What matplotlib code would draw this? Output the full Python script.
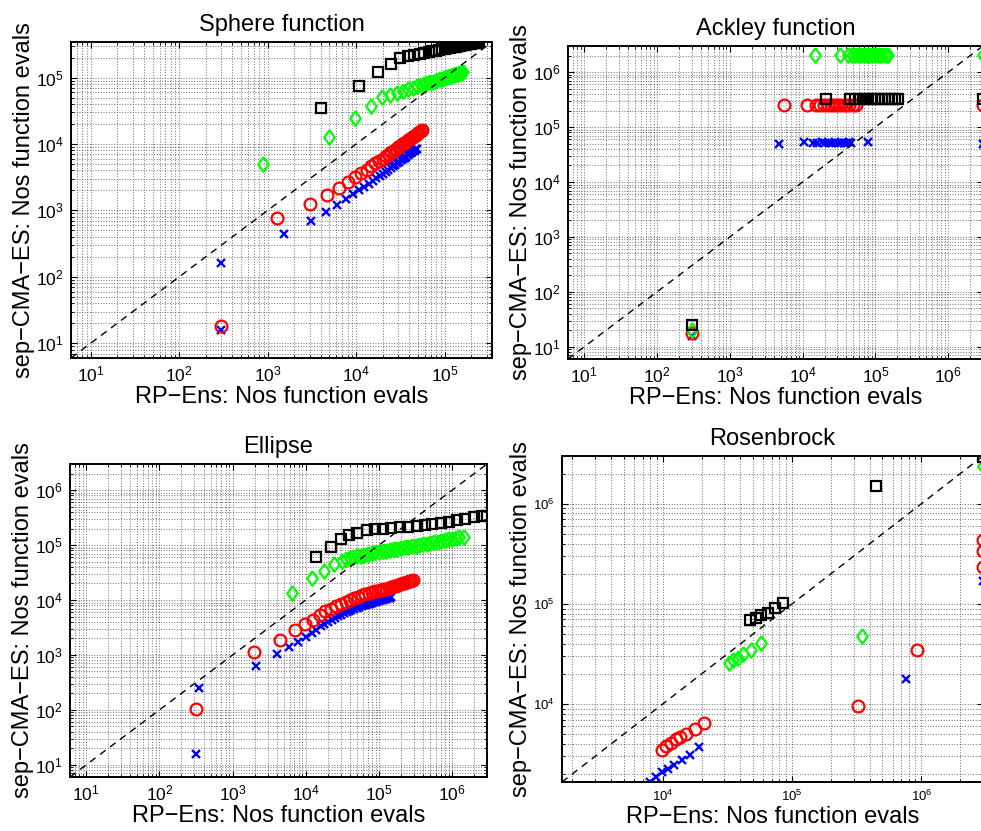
import matplotlib
matplotlib.use('Agg')
import matplotlib.pyplot as plt
import matplotlib.ticker as mticker
from matplotlib import font_manager as fm

# narrow helvetica-like look of the matlab export, if available
names = {f.name for f in fm.fontManager.ttflist}
if 'Liberation Sans Narrow' in names:
    FONT, LAB, TICK, TICK_SMALL = 'Liberation Sans Narrow', 21, 14, 11
else:
    FONT, LAB, TICK, TICK_SMALL = 'Liberation Sans', 17, 12.5, 9.5
plt.rcParams['font.family'] = [FONT, 'DejaVu Sans']

XLABEL = 'RP\u2212Ens: Nos function evals'
YLABEL = 'sep\u2212CMA\u2212ES: Nos function evals'

# ---- Sphere function ----
sph_blue_x = [300, 300, 1540, 3080, 4620, 6160, 7700, 9240, 10780, 12320, 13860, 15400, 16940, 18480,
              20020, 21560, 23100, 24640, 26180, 27720, 29260, 30800, 32340, 33880, 35420, 36960,
              38500, 40040, 41580, 43120, 44660, 46200, 47740, 49280]
sph_blue_y = [160, 16, 440, 700, 960, 1220, 1490, 1750, 2010, 2270, 2530, 2800, 3060, 3320, 3580,
              3840, 4100, 4370, 4630, 4890, 5150, 5420, 5680, 5940, 6200, 6460, 6730, 6990, 7250,
              7510, 7770, 8040, 8300, 8560]
sph_red_x = [300, 1290, 2980, 4670, 6360, 8050, 9740, 11430, 13120, 14810, 16500, 18190, 19880,
             21570, 23260, 24950, 26640, 28330, 30020, 31710, 33400, 35090, 36780, 38470, 40160,
             41850, 43540, 45230, 46920, 48610, 50300, 51990, 53680, 55370]
sph_red_y = [18, 770, 1250, 1730, 2210, 2690, 3170, 3650, 4130, 4610, 5090, 5570, 6050, 6530, 7010,
             7490, 7970, 8450, 8930, 9410, 9890, 10370, 10850, 11330, 11810, 12290, 12770, 13250,
             13730, 14210, 14690, 15170, 15650, 16130]
sph_green_x = [893, 4880, 9760, 14640, 19520, 24400, 29280, 34160, 39040, 43920, 48800, 53680,
               58560, 63440, 68320, 73200, 78080, 82960, 87840, 92720, 97600, 102480, 107360,
               112240, 117120, 122000, 126880, 131760, 136640, 141520, 146400, 151280, 156160, 161040]
sph_green_y = [4980, 12800, 24700, 37900, 51200, 55000, 59400, 63400, 67000, 70400, 73600, 76600,
               79400, 82200, 84800, 87200, 89600, 92000, 94200, 96300, 98500, 100500, 102500,
               104400, 106300, 108100, 109900, 111700, 113400, 115100, 116700, 118300, 119900, 121500]
sph_black_x = [4030, 10900, 17800, 24700, 31600, 38500, 45400, 52300, 59200, 66100, 73000, 79900,
               86800, 93700, 100600, 107500, 114400, 121300, 128200, 135100, 142000, 148900,
               155800, 162700, 169600, 176500, 183400, 190300, 197200, 204100, 211000, 217900,
               224800, 231700, 238600, 245500]
sph_black_y = [35000, 74000, 120000, 162000, 198000, 208900, 218400, 226900, 234600, 241700,
               248200, 254400, 260100, 265500, 270700, 275600, 280200, 284700, 289000, 293100,
               297100, 300900, 304600, 308200, 311700, 315100, 318300, 321500, 324600, 327600,
               330600, 333500, 336300, 339000, 341800, 344400]

# ---- Ackley function ----
ack_blue_x = [300, 4680, 10300, 13900, 16000, 18300, 20500, 23000, 25500, 28000, 30500, 33500,
              36500, 39500, 43000, 46800, 79200, 3000000]
ack_blue_y = [16, 48700, 53000, 52000, 51500, 52500, 52000, 51000, 52000, 52500, 51500, 52000,
              51000, 52000, 52500, 51500, 53000, 50000]
ack_red_x = [300, 5480, 11500, 15400, 17500, 19800, 22000, 24500, 27000, 30000, 33000, 36500,
             40000, 44000, 48500, 54800, 3000000]
ack_red_y = [17.5, 254000, 254000, 252000, 255000, 253000, 256000, 254000, 252000, 255000, 253000,
             254000, 256000, 253000, 255000, 254000, 254000]
ack_green_x = [300, 14900, 32300, 42100, 47000, 52000, 57500, 63000, 69000, 75500, 82500, 90000,
               98000, 107000, 117000, 127000, 138000, 149000, 3000000]
ack_green_y = [20, 2070000, 2070000, 2060000, 2080000, 2070000, 2060000, 2070000, 2080000, 2070000,
               2060000, 2070000, 2080000, 2070000, 2060000, 2070000, 2080000, 2070000, 2070000]
ack_black_x = [300, 20800, 45300, 52000, 60000, 68000, 77000, 87000, 98000, 110000, 123000,
               137000, 152000, 168000, 186000, 205000, 3000000]
ack_black_y = [24.8, 322000, 322000, 321000, 323000, 322000, 321000, 322000, 323000, 322000,
               321000, 322000, 323000, 322000, 321000, 322000, 322000]

# ---- Ellipse ----
ell_blue_x = [318, 345, 2110, 4010, 5890, 7870, 9980, 12000, 14000, 16000, 18000, 20000, 22500,
              25000, 27500, 30000, 33000, 36000, 39000, 42000, 46000, 50000, 54000, 58000, 62000,
              66000, 70000, 75000, 80000, 85000, 90000, 95000, 100000, 106000, 112000, 118000,
              124000, 130000, 136000, 142000, 147000]
ell_blue_y = [16, 250, 637, 1040, 1370, 1740, 2110, 2500, 2900, 3300, 3690, 4010, 4390, 4770, 5100,
              5380, 5700, 6010, 6310, 6580, 6890, 7180, 7460, 7730, 7990, 8200, 8390, 8630, 8850,
              9060, 9270, 9480, 9670, 9880, 10100, 10300, 10500, 10700, 10900, 11100, 11250]
ell_red_x = [318, 1960, 4500, 7010, 9680, 12500, 15500, 18500, 22000, 26000, 30000, 35000, 40000,
             46000, 52000, 58000, 65000, 72000, 80000, 88000, 96000, 105000, 115000, 125000,
             135000, 146000, 158000, 170000, 183000, 196000, 210000, 224000, 240000, 256000,
             272000, 288000]
ell_red_y = [104, 1130, 1890, 2790, 3690, 4360, 5310, 6200, 6970, 7810, 8500, 9270, 10000, 10700,
             11400, 12100, 12700, 13200, 13800, 14400, 14800, 15300, 15800, 16200, 16600, 17100,
             17800, 18300, 18900, 19500, 20100, 20700, 21400, 22000, 22600, 23200]
ell_green_x = [6460, 12300, 17600, 24000, 31200, 35500, 39800, 44700, 50100, 56200, 63100, 70800,
               79400, 89100, 100000, 112000, 126000, 141000, 158000, 178000, 200000, 224000,
               251000, 282000, 316000, 355000, 398000, 447000, 501000, 562000, 631000, 708000,
               794000, 891000, 1000000, 1120000, 1260000, 1440000]
ell_green_y = [13700, 24900, 34300, 45300, 52100, 54700, 57100, 59700, 62100, 64400, 66800, 69500,
               71600, 73500, 75400, 77400, 79400, 81500, 83600, 85900, 88100, 90400, 92700, 95200,
               97700, 100200, 102800, 105400, 108400, 111900, 115300, 119100, 122700, 126500,
               130000, 134000, 137700, 142200]
ell_black_x = [14000, 22100, 30500, 39500, 50700, 67700, 87700, 114000, 147000, 191000, 252000,
               327000, 424000, 537000, 697000, 902000, 1170000, 1510000, 1960000, 2540000, 3000000]
ell_black_y = [59800, 93500, 127000, 152000, 168000, 188000, 193000, 199000, 204000, 210000,
               216000, 222000, 235000, 241000, 255000, 266000, 285000, 302000, 319000, 337000, 345000]

# ---- Rosenbrock ----
ros_blue_x = [7980, 8870, 9880, 11000, 12300, 14100, 16300, 19200, 757000, 3000000]
ros_blue_y = [1665, 1890, 2090, 2260, 2470, 2770, 3110, 3710, 18000, 170000]
ros_red_x = [9880, 10600, 11600, 12700, 13600, 15300, 17900, 20800, 324000, 931000,
             3000000, 3000000, 3000000]
ros_red_y = [3480, 3820, 4120, 4450, 4730, 4990, 5690, 6520, 9630, 35000, 430000, 340000, 236000]
ros_green_x = [32400, 34800, 38100, 41600, 48300, 57700, 347000, 3000000]
ros_green_y = [26000, 27400, 29100, 31900, 34400, 41100, 47500, 2390000]
ros_black_x = [47800, 52800, 57700, 65000, 74500, 84900, 449000, 3000000]
ros_black_y = [68500, 72800, 76900, 81700, 90800, 103000, 1510000, 2950000]

diamond = [(0, 1), (0.72, 0), (0, -1), (-0.72, 0), (0, 1)]
styles = [
    dict(marker='x', color='b', ms=6, mew=1.7),
    dict(marker='o', mfc='none', mec='r', ms=8.5, mew=1.6),
    dict(marker=diamond, mfc='none', mec=(0, 1, 0), ms=10.5, mew=1.6),
    dict(marker='s', mfc='none', mec='k', ms=7, mew=1.6),
]

panels = [
    ('Sphere function', [0.0724, 0.5692, 0.4292, 0.3803], (6, 3.44e5), TICK,
     [(sph_blue_x, sph_blue_y), (sph_red_x, sph_red_y), (sph_green_x, sph_green_y), (sph_black_x, sph_black_y)]),
    ('Ackley function', [0.579, 0.568, 0.423, 0.3767], (6, 3e6), TICK,
     [(ack_blue_x, ack_blue_y), (ack_red_x, ack_red_y), (ack_green_x, ack_green_y), (ack_black_x, ack_black_y)]),
    ('Ellipse', [0.0714, 0.065, 0.4251, 0.3767], (6, 3e6), TICK,
     [(ell_blue_x, ell_blue_y), (ell_red_x, ell_red_y), (ell_green_x, ell_green_y), (ell_black_x, ell_black_y)]),
    ('Rosenbrock', [0.5729, 0.059, 0.4292, 0.3923], (1670, 3e6), TICK_SMALL,
     [(ros_blue_x, ros_blue_y), (ros_red_x, ros_red_y), (ros_green_x, ros_green_y), (ros_black_x, ros_black_y)]),
]

fig = plt.figure(figsize=(9.81, 8.31), dpi=100)

for title, pos, lim, tsize, series in panels:
    ax = fig.add_axes(pos)
    ax.set_xscale('log')
    ax.set_yscale('log')
    for (xs, ys), st in zip(series, styles):
        ax.plot(xs, ys, linestyle='none', **st)
    ax.plot(lim, lim, 'k--', lw=1.0, dashes=(5, 4))
    ax.set_xlim(lim)
    ax.set_ylim(lim)
    for axis in (ax.xaxis, ax.yaxis):
        axis.set_major_locator(mticker.LogLocator(base=10, numticks=15))
        axis.set_minor_locator(mticker.LogLocator(base=10, subs=range(2, 10), numticks=15))
        axis.set_minor_formatter(mticker.NullFormatter())
    ax.grid(True, which='both', linestyle=(0, (1, 2.2)), color='0.25', linewidth=0.6)
    ax.set_axisbelow(True)
    ax.tick_params(which='both', direction='in', top=True, right=True, labelsize=tsize)
    ax.tick_params(which='major', length=4, pad=5)
    ax.tick_params(which='minor', length=2)
    for sp in ax.spines.values():
        sp.set_linewidth(1.4)
    ax.set_title(title, fontsize=LAB, pad=8)
    ax.set_xlabel(XLABEL, fontsize=LAB, labelpad=1)
    ax.set_ylabel(YLABEL, fontsize=LAB, labelpad=1)

fig.savefig('out.png', dpi=100)
